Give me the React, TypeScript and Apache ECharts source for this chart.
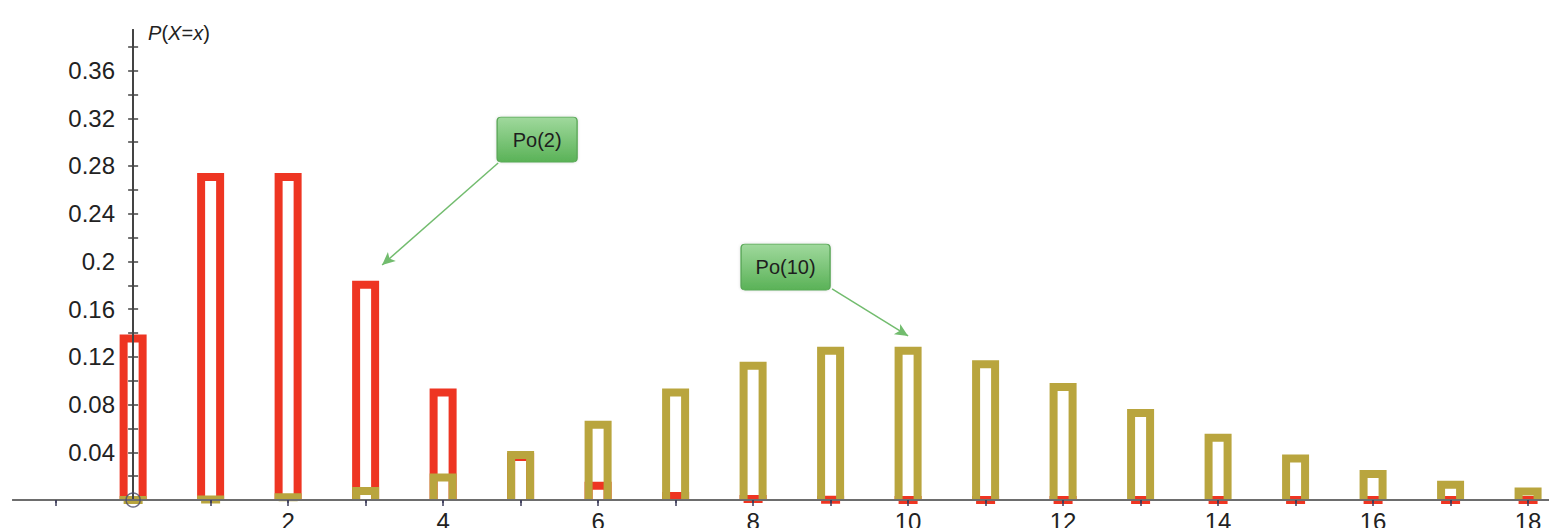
import React, { useEffect, useRef } from 'react';
import * as echarts from 'echarts';

// Outcomes x = 0..18
const xValues = [0, 1, 2, 3, 4, 5, 6, 7, 8, 9, 10, 11, 12, 13, 14, 15, 16, 17, 18];
// P(X=x) for Po(2)
const po2 = [0.1353, 0.2707, 0.2707, 0.1804, 0.0902, 0.0361, 0.012, 0.0034, 0.0009, 0.0002, 0.00004, 0.000007, 0.000001, 0, 0, 0, 0, 0, 0];
// P(X=x) for Po(10)
const po10 = [0.00005, 0.0005, 0.0023, 0.0076, 0.0189, 0.0378, 0.0631, 0.0901, 0.1126, 0.1251, 0.1251, 0.1137, 0.0948, 0.0729, 0.0521, 0.0347, 0.0217, 0.0128, 0.0071];

const xTickValues = [-1, 1, 2, 3, 4, 5, 6, 7, 8, 9, 10, 11, 12, 13, 14, 15, 16, 17, 18];
const xLabelValues = [2, 4, 6, 8, 10, 12, 14, 16, 18];
const yTickValues = [0.02, 0.04, 0.06, 0.08, 0.1, 0.12, 0.14, 0.16, 0.18, 0.2, 0.22, 0.24, 0.26, 0.28, 0.3, 0.32, 0.34, 0.36, 0.38];
const yLabelValues = [0.04, 0.08, 0.12, 0.16, 0.2, 0.24, 0.28, 0.32, 0.36];

const seriesNames = ['Po(2)', 'Po(10)'];
const calloutTexts = ['Po(2)', 'Po(10)'];

const FONT = '"Liberation Sans", Arial, sans-serif';

function barSeries(name: string, values: number[], color: string) {
  return {
    type: 'custom',
    name,
    xAxisIndex: 0,
    yAxisIndex: 0,
    z: 2,
    data: xValues.map((x, i) => [x, values[i]]),
    encode: { x: 0, y: 1 },
    renderItem: (params: any, api: any) => {
      const x = api.value(0);
      const y = api.value(1);
      const top = api.coord([x, y]);
      const base = api.coord([x, 0]);
      const l = top[0] - 9.5;
      const r = top[0] + 9.5;
      return {
        type: 'polyline',
        shape: { points: [[l, base[1]], [l, top[1]], [r, top[1]], [r, base[1]]] },
        style: { fill: 'none', stroke: color, lineWidth: 8, lineJoin: 'miter', lineCap: 'butt', miterLimit: 10 },
      };
    },
  };
}

function roundBoxPath(w: number, h: number, r: number) {
  return `path://M${r},0 H${w - r} Q${w},0 ${w},${r} V${h - r} Q${w},${h} ${w - r},${h} H${r} Q0,${h} 0,${h - r} V${r} Q0,0 ${r},0 Z`;
}

export default function App() {
  const ref = useRef<HTMLDivElement>(null);

  useEffect(() => {
    if (!ref.current) return;
    const chart = echarts.init(ref.current, undefined, { renderer: 'svg' });

    const boxColor = {
      type: 'linear', x: 0, y: 0, x2: 0, y2: 1,
      colorStops: [
        { offset: 0, color: '#a0d99d' },
        { offset: 1, color: '#5ab257' },
      ],
    };

    const option: any = {
      animation: false,
      textStyle: { fontFamily: FONT },
      grid: { left: 13, right: 0, top: 30, bottom: 28, containLabel: false, outerBoundsMode: 'none' },
      xAxis: [
        {
          type: 'value', min: -1.55, max: 18.27, z: 10,
          axisLine: { show: true, onZero: true, onZeroAxisIndex: 0, lineStyle: { color: '#6d6d6d', width: 2 } },
          axisTick: { show: true, inside: false, length: 6, customValues: xTickValues, lineStyle: { color: '#3c3c5a', width: 1.5 } },
          axisLabel: { show: true, customValues: xLabelValues, formatter: (v: number) => String(v), fontSize: 24, color: '#222', margin: 9, fontFamily: FONT },
          splitLine: { show: false },
        },
        {
          type: 'value', min: -1.55, max: 18.27, z: 10,
          axisLine: { show: true, onZero: true, onZeroAxisIndex: 0, lineStyle: { color: '#6d6d6d', width: 2 } },
          axisTick: { show: true, inside: true, length: 3, customValues: xTickValues, lineStyle: { color: '#3c3c5a', width: 1.5 } },
          axisLabel: { show: false },
          splitLine: { show: false },
        },
      ],
      yAxis: [
        {
          type: 'value', min: 0, max: 0.394, position: 'left', z: 10,
          name: '{i|P}({i|X}={i|x})',
          nameLocation: 'end',
          nameGap: -3,
          nameTextStyle: {
            align: 'left', verticalAlign: 'middle', fontSize: 20, color: '#222', fontFamily: FONT,
            padding: [0, 0, 0, 15],
            rich: { i: { fontStyle: 'italic', fontSize: 20, color: '#222', fontFamily: FONT } },
          },
          axisLine: { show: true, onZero: true, onZeroAxisIndex: 0, lineStyle: { color: '#444', width: 2 } },
          axisTick: { show: true, inside: false, length: 5, customValues: yTickValues, lineStyle: { color: '#444', width: 1.5 } },
          axisLabel: { show: true, customValues: yLabelValues, formatter: (v: number) => String(v), fontSize: 24, color: '#222', margin: -102, fontFamily: FONT },
          splitLine: { show: false },
        },
        {
          type: 'value', min: 0, max: 0.394, position: 'left', z: 10,
          axisLine: { show: true, onZero: true, onZeroAxisIndex: 0, lineStyle: { color: '#444', width: 2 } },
          axisTick: { show: true, inside: true, length: 5, customValues: yTickValues, lineStyle: { color: '#444', width: 1.5 } },
          axisLabel: { show: false },
          splitLine: { show: false },
        },
      ],
      series: [
        barSeries(seriesNames[0], po2, '#ee3522'),
        barSeries(seriesNames[1], po10, '#b9a53e'),
        {
          type: 'scatter',
          name: 'origin',
          xAxisIndex: 0,
          yAxisIndex: 0,
          z: 20,
          data: [[0, 0]],
          symbol: 'circle',
          symbolSize: 14,
          itemStyle: { color: 'rgba(0,0,0,0)', borderColor: '#4a4a66', borderWidth: 1.5 },
          silent: true,
          markLine: {
            silent: true,
            symbol: ['none', 'arrow'],
            symbolSize: [9, 13],
            label: { show: false },
            lineStyle: { color: '#72bc6e', width: 1.5, type: 'solid' },
            data: [
              [{ coord: [4.71, 0.2825] }, { coord: [3.213, 0.197] }],
              [{ coord: [9.019, 0.1769] }, { coord: [10.0, 0.1375] }],
            ],
          },
          markPoint: {
            silent: true,
            itemStyle: { color: boxColor, borderColor: '#58a656', borderWidth: 1, shadowColor: 'rgba(0,0,0,0.15)', shadowBlur: 3 },
            label: { show: true, position: 'inside', color: '#1e1e1e', fontSize: 20, fontFamily: FONT },
            data: [
              { name: calloutTexts[0], coord: [5.213, 0.3022], symbol: roundBoxPath(80, 45, 4), symbolSize: [80, 45], symbolKeepAspect: false, label: { formatter: calloutTexts[0] } },
              { name: calloutTexts[1], coord: [8.419, 0.1953], symbol: roundBoxPath(89, 46, 4), symbolSize: [89, 46], symbolKeepAspect: false, label: { formatter: calloutTexts[1] } },
            ],
          },
        },
      ],
    };

    chart.setOption(option);
    return () => chart.dispose();
  }, []);

  return (
    <div
      ref={ref}
      style={{ position: 'fixed', left: 0, top: 0, width: 1549, height: 528, background: '#fff' }}
    />
  );
}
